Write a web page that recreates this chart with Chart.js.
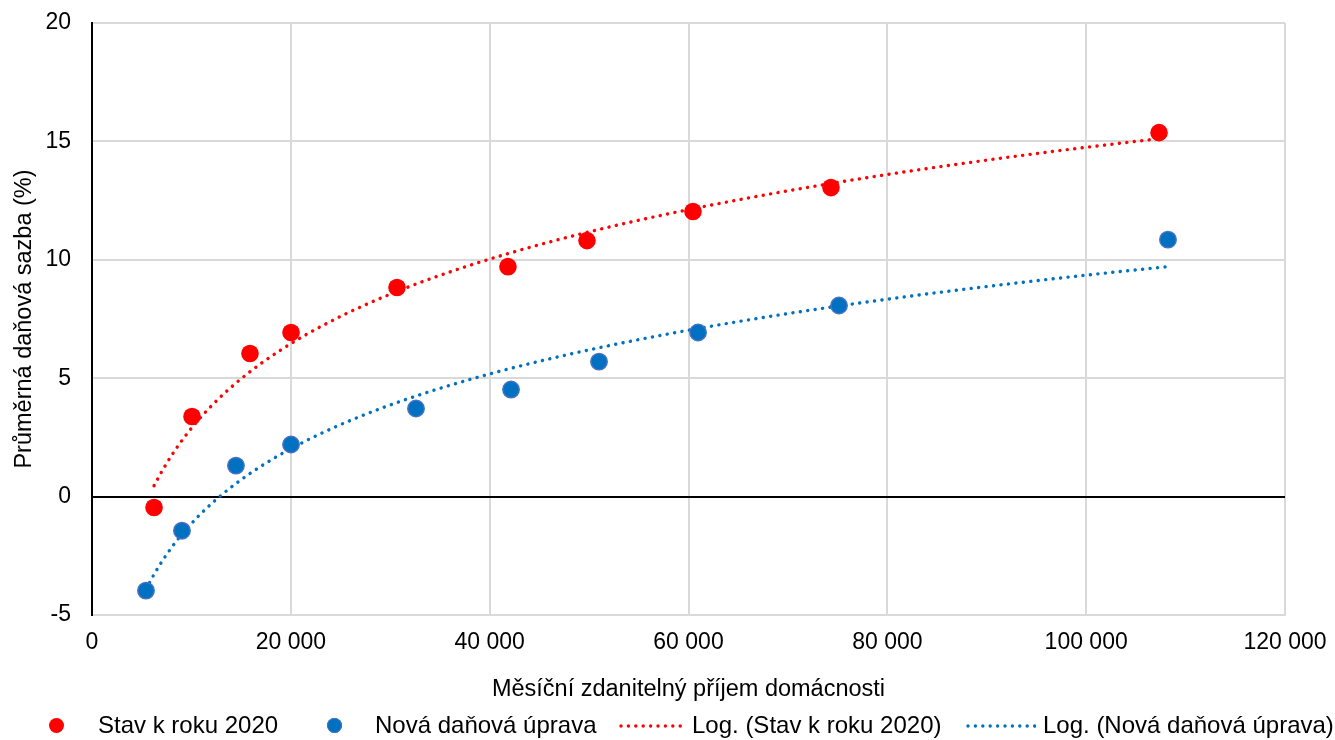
<!DOCTYPE html>
<html>
<head>
<meta charset="utf-8">
<script src="https://cdn.jsdelivr.net/npm/chart.js@4.4.1/dist/chart.umd.min.js"></script>
<style>
  html, body { margin:0; padding:0; background:#fff; }
  #wrap { position:relative; width:1335px; height:740px; font-family:"Liberation Sans", Arial, sans-serif; }
  canvas { position:absolute; left:0; top:0; }
  .lg { position:absolute; font-size:24px; color:#000; line-height:28px; top:711px; white-space:nowrap; }
  .dot { position:absolute; width:15px; height:15px; border-radius:50%; top:718px; }
  .dl { position:absolute; top:724px; height:4px; }
</style>
</head>
<body>
<div id="wrap">
  <canvas id="c" width="1335" height="740"></canvas>
  <div class="dot" style="left:49px;background:#FF0000"></div>
  <div class="lg" style="left:98px">Stav k roku 2020</div>
  <div class="dot" style="left:327px;background:#0070C0;box-shadow:0 0 0 1px #4472C4 inset"></div>
  <div class="lg" style="left:375px">Nová daňová úprava</div>
  <canvas class="dl" id="l1" width="66" height="4" style="left:619px"></canvas>
  <div class="lg" style="left:692px">Log. (Stav k roku 2020)</div>
  <canvas class="dl" id="l2" width="70" height="4" style="left:966px"></canvas>
  <div class="lg" style="left:1043px">Log. (Nová daňová úprava)</div>
</div>
<script>
// ---- data ----
const incomeStav = [6240, 10060, 15890, 20020, 30680, 41840, 49790, 60450, 74330, 107330];
const rateStav   = [-0.46, 3.38, 6.04, 6.93, 8.83, 9.71, 10.81, 12.04, 13.05, 15.37];
const incomeNova = [5430, 9050, 14480, 20020, 32590, 42150, 51000, 60960, 75140, 108230];
const rateNova   = [-3.97, -1.44, 1.31, 2.20, 3.72, 4.52, 5.70, 6.93, 8.07, 10.85];
const seriesNames = ['Stav k roku 2020', 'Nová daňová úprava', 'Log. (Stav k roku 2020)', 'Log. (Nová daňová úprava)'];
const xTickLabels = ['0', '20 000', '40 000', '60 000', '80 000', '100 000', '120 000'];
const yTickLabels = ['-5', '0', '5', '10', '15', '20'];

// Logarithmic least-squares trendline (as in the spreadsheet) computed from the data
function logTrend(xs, ys, samples) {
  const n = xs.length;
  const lx = xs.map(Math.log);
  const mx = lx.reduce((a, b) => a + b, 0) / n;
  const my = ys.reduce((a, b) => a + b, 0) / n;
  let sxy = 0, sxx = 0;
  for (let i = 0; i < n; i++) { sxy += (lx[i] - mx) * (ys[i] - my); sxx += (lx[i] - mx) ** 2; }
  const a = sxy / sxx, b = my - a * mx;
  const x0 = Math.min(...xs), x1 = Math.max(...xs);
  const pts = [];
  for (let i = 0; i <= samples; i++) {
    const x = x0 + (x1 - x0) * i / samples;
    pts.push({ x, y: a * Math.log(x) + b });
  }
  return pts;
}
const toPts = (xs, ys) => xs.map((x, i) => ({ x, y: ys[i] }));

const RED = '#FF0000', BLUE = '#0070C0', BLUE_EDGE = '#4472C4';
const DOTS = [0.1, 7.4];

new Chart(document.getElementById('c'), {
  type: 'scatter',
  data: {
    datasets: [
      { label: seriesNames[0], data: toPts(incomeStav, rateStav), backgroundColor: RED, borderColor: RED, pointRadius: 8.8, pointHoverRadius: 8.8, borderWidth: 0, order: 1 },
      { label: seriesNames[1], data: toPts(incomeNova, rateNova), backgroundColor: BLUE, borderColor: BLUE_EDGE, pointRadius: 8.2, pointHoverRadius: 8.2, borderWidth: 1.5, order: 1 },
      { label: seriesNames[2], data: logTrend(incomeStav, rateStav, 120), showLine: true, pointRadius: 0, borderColor: RED, borderWidth: 3.4, borderDash: DOTS, borderCapStyle: 'round', fill: false, order: 2 },
      { label: seriesNames[3], data: logTrend(incomeNova, rateNova, 120), showLine: true, pointRadius: 0, borderColor: BLUE, borderWidth: 3.4, borderDash: DOTS, borderCapStyle: 'round', fill: false, order: 2 }
    ]
  },
  options: {
    responsive: false,
    animation: false,
    events: [],
    layout: { padding: { left: 6, right: 50, top: 23, bottom: 32 } },
    plugins: { legend: { display: false }, tooltip: { enabled: false } },
    scales: {
      x: {
        type: 'linear', min: 0, max: 120000,
        afterFit: s => { s.height = 93; s.paddingLeft = 0; s.paddingRight = 0; },
        afterBuildTicks: s => { s.ticks = xTickLabels.map((_, i) => ({ value: i * 20000 })); },
        ticks: { color: '#000', padding: 14, maxRotation: 0, font: { family: 'Liberation Sans', size: 23 },
                 callback: (v, i) => xTickLabels[i] },
        grid: { color: ctx => (ctx.tick && ctx.tick.value === 0) ? '#000' : '#d9d9d9', lineWidth: 2, drawTicks: false },
        border: { color: '#d9d9d9', width: 2 },
        title: { display: true, text: 'Měsíční zdanitelný příjem domácnosti', color: '#000', font: { family: 'Liberation Sans', size: 23.5 }, padding: { top: 4, bottom: 4 } }
      },
      y: {
        type: 'linear', min: -5, max: 20,
        afterFit: s => { s.width = 86; s.paddingTop = 0; s.paddingBottom = 0; },
        afterBuildTicks: s => { s.ticks = yTickLabels.map(t => ({ value: Number(t) })); },
        ticks: { color: '#000', padding: 21, font: { family: 'Liberation Sans', size: 23 },
                 callback: (v, i) => yTickLabels[i] },
        grid: { color: ctx => (ctx.tick && ctx.tick.value === 0) ? '#000' : '#d9d9d9', lineWidth: 2, drawTicks: false },
        border: { color: '#000', width: 2 },
        title: { display: true, text: 'Průměrná daňová sazba (%)', color: '#000', font: { family: 'Liberation Sans', size: 23.5 }, padding: { top: 4, bottom: 4 } }
      }
    }
  }
});

// dotted legend swatches
function swatch(id, color) {
  const cv = document.getElementById(id), g = cv.getContext('2d');
  g.fillStyle = color;
  for (let x = 2; x < cv.width; x += 7.4) { g.beginPath(); g.arc(x, 2, 1.7, 0, Math.PI * 2); g.fill(); }
}
swatch('l1', RED);
swatch('l2', BLUE);
</script>
</body>
</html>
